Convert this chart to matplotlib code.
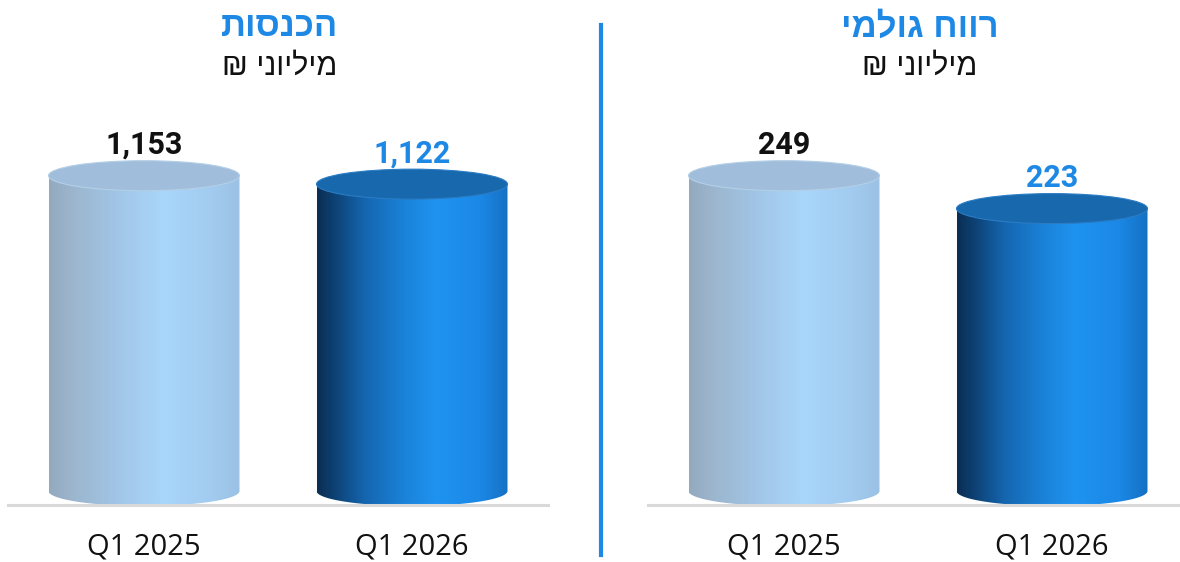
import numpy as np
import matplotlib.pyplot as plt
from matplotlib.patches import Ellipse, PathPatch
from matplotlib.path import Path
from matplotlib.colors import to_rgb
from matplotlib.lines import Line2D

# data
periods = ['Q1 2025', 'Q1 2026']
revenue = [1153, 1122]
gross_profit = [249, 223]
titles = ['הכנסות', 'רווח גולמי']
unit = 'מיליוני ₪'

W, H = 1180, 562
BLUE = '#1e88e5'

# gradient stops (position, colour) for the cylinder bodies
light_stops = [(0, '#93a9bf'), (0.1, '#9bb4cb'), (0.35, '#a1c5e6'), (0.6, '#a9d6fb'),
               (0.85, '#a2cbef'), (1, '#9bc2e5')]
dark_stops = [(0, '#0b2e52'), (0.08, '#0d3f70'), (0.25, '#1566b0'), (0.45, '#1a82d8'),
              (0.62, '#1f93f0'), (0.85, '#1b88e6'), (1, '#1670c2')]
top_colors = [('#a0bedb', '#b4cfe6'), ('#1868ad', '#2a7cc4')]


def heb(s):
    # matplotlib has no bidi, so flip hebrew for display
    return s[::-1]


def gradient(stops, n=256):
    pos = [p for p, _ in stops]
    cols = np.array([to_rgb(c) for _, c in stops])
    xs = np.linspace(0, 1, n)
    img = np.stack([np.interp(xs, pos, cols[:, k]) for k in range(3)], axis=-1)
    return img[np.newaxis, :, :]


def cylinder(ax, x, v, w, ry, stops, top, rim):
    x0, x1 = x - w / 2, x + w / 2
    t = np.linspace(np.pi, 2 * np.pi, 80)
    arc = np.column_stack([x + w / 2 * np.cos(t), ry * np.sin(t)])
    verts = [(x0, v)] + [tuple(p) for p in arc] + [(x1, v), (x0, v)]
    codes = [Path.MOVETO] + [Path.LINETO] * (len(verts) - 2) + [Path.CLOSEPOLY]
    body = PathPatch(Path(verts, codes), facecolor='none', edgecolor='none')
    ax.add_patch(body)
    im = ax.imshow(gradient(stops), extent=[x0, x1, -ry, v], aspect='auto',
                   origin='lower', interpolation='bilinear', zorder=2)
    im.set_clip_path(body)
    ax.add_patch(Ellipse((x, v), w, 2 * ry, facecolor=top, edgecolor=rim, lw=0.8, zorder=3))


fig = plt.figure(figsize=(W / 100, H / 100), dpi=100)

# panel layout in pixels: (left, right, title centre)
panels = [(8, 548, 280, revenue), (648, 1180, 920, gross_profit)]
base_px, top_px = 505, 100
spacing = 268  # px between bar centres
bar_w = 191 / spacing

for k, (lpx, rpx, cx, vals) in enumerate(panels):
    ax = fig.add_axes([lpx / W, 1 - base_px / H, (rpx - lpx) / W, (base_px - top_px) / H])
    vmax = vals[0]
    ylo, yhi = -0.0444 * vmax, 1.24 * vmax
    ax_h_px = base_px - top_px
    ry = 15 * (yhi - ylo) / ax_h_px

    first_center = 144 if k == 0 else 784
    xlo = -(first_center - lpx) / spacing
    xhi = (rpx - first_center) / spacing

    for i, v in enumerate(vals):
        stops = light_stops if i == 0 else dark_stops
        cylinder(ax, i, v, bar_w, ry, stops, *top_colors[i])
        ax.annotate(f'{v:,}', xy=(i, v + ry), xytext=(0, 5), textcoords='offset points',
                    ha='center', va='baseline', fontfamily='Roboto', fontweight='bold',
                    fontsize=22, color='#111111' if i == 0 else BLUE)

    ax.set_xlim(xlo, xhi)
    ax.set_ylim(ylo, yhi)
    ax.set_xticks(range(len(periods)), periods)
    ax.set_yticks([])
    ax.tick_params(axis='x', length=0, pad=20, labelsize=21, labelcolor='#111111')
    for lab in ax.get_xticklabels():
        lab.set_fontfamily('Open Sans')
    for s in ['left', 'right', 'top']:
        ax.spines[s].set_visible(False)
    ax.spines['bottom'].set_color('#d9d9d9')
    ax.spines['bottom'].set_linewidth(2.2)
    ax.patch.set_alpha(0)

    fig.text(cx / W, 1 - 27 / H, heb(titles[k]), ha='center', va='center',
             family=['Liberation Sans', 'DejaVu Sans'], fontweight='bold',
             fontsize=25, color=BLUE)
    fig.text(cx / W, 1 - 67 / H, heb(unit), ha='center', va='center',
             family=['Liberation Sans', 'DejaVu Sans'], fontsize=22, color='#111111')

# separator
fig.add_artist(Line2D([601 / W, 601 / W], [1 - 25 / H, 1 - 555 / H], color=BLUE, lw=3))

fig.savefig('out.png', dpi=100)
